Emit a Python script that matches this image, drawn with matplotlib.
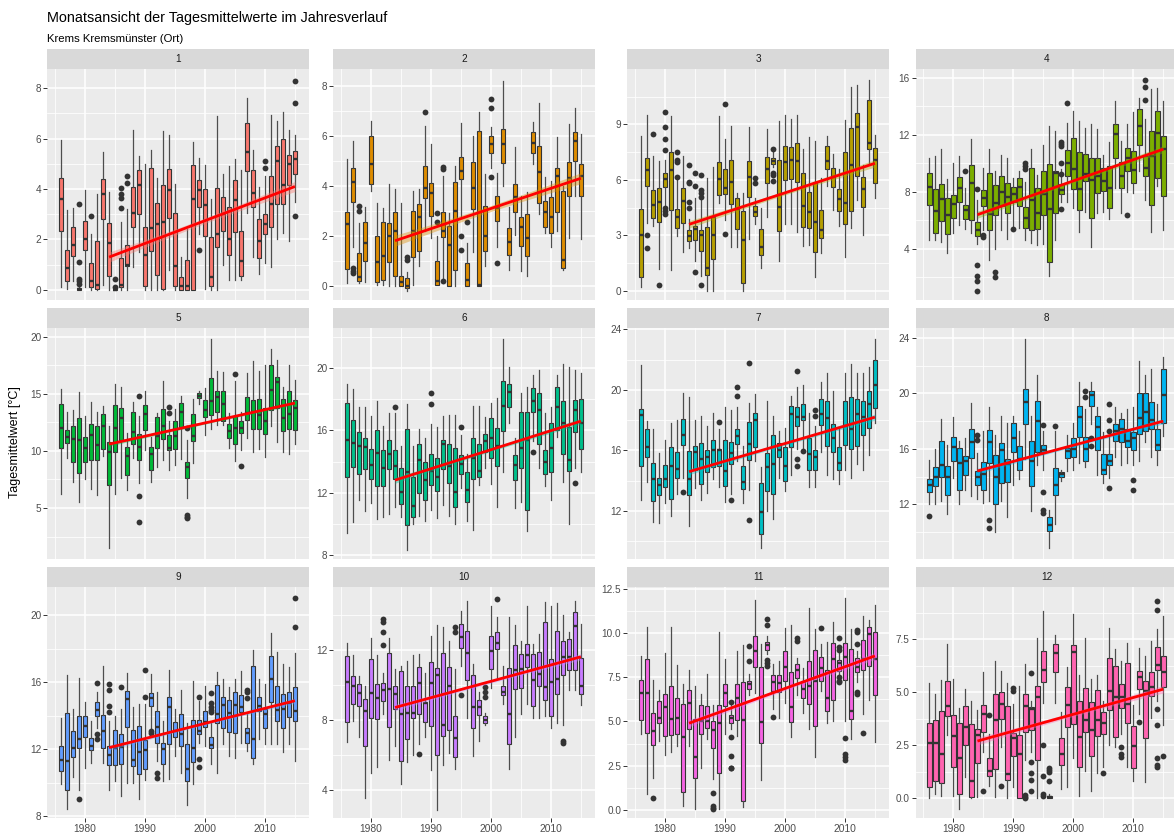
import matplotlib
matplotlib.use('Agg')
import matplotlib.pyplot as plt
import numpy as np

plt.rcParams['font.family'] = ['Liberation Sans', 'DejaVu Sans']

titel = 'Monatsansicht der Tagesmittelwerte im Jahresverlauf'
untertitel = 'Krems Kremsmünster (Ort)'
y_titel = 'Tagesmittelwert [°C]'

jahre = list(range(1976, 2016))
monate = ['1', '2', '3', '4', '5', '6', '7', '8', '9', '10', '11', '12']
farben = ['#F8766D', '#DE8C00', '#B79F00', '#7CAE00', '#00BA38', '#00C08B',
          '#00BFC4', '#00B4F0', '#619CFF', '#C77CFF', '#F564E3', '#FF64B0']

# je Jahr: (unteres Whisker-Ende, Q1, Median, Q3, oberes Whisker-Ende)
m01 = [(0.1, 2.35, 3.6, 4.45, 5.95), (0.05, 0.35, 0.85, 1.6, 3.15), (0.35, 1.35, 1.8, 2.5, 3.25),
       (0.0, 0.0, 0.02, 0.08, 0.2), (0.1, 1.6, 2.0, 2.75, 3.95), (0.0, 0.1, 0.35, 1.05, 2.2),
       (0.0, 0.05, 0.2, 1.95, 3.8), (0.2, 2.8, 3.8, 4.4, 5.45), (0.0, 0.55, 1.85, 2.65, 3.9),
       (0.0, 0.0, 0.0, 0.02, 0.05), (0.0, 0.1, 0.2, 1.25, 2.7), (0.0, 0.95, 1.0, 1.8, 3.2),
       (0.9, 2.5, 3.05, 4.1, 6.35), (1.5, 3.0, 4.15, 4.75, 5.3), (0.0, 0.15, 1.4, 2.5, 5.0),
       (0.0, 1.55, 2.45, 4.85, 5.55), (0.0, 0.6, 2.6, 3.45, 4.45), (0.0, 0.05, 2.7, 4.15, 6.3),
       (0.8, 2.85, 3.95, 4.8, 6.15), (0.0, 0.15, 0.95, 3.05, 4.2), (0.0, 0.0, 0.15, 0.5, 1.3),
       (0.0, 0.0, 0.15, 1.2, 2.4), (0.0, 0.0, 3.6, 4.95, 5.85), (2.2, 3.3, 3.95, 4.35, 5.25),
       (0.05, 2.15, 3.35, 4.0, 4.95), (0.0, 0.15, 0.5, 2.1, 3.6), (0.0, 1.7, 2.2, 4.05, 6.9),
       (1.0, 2.35, 3.0, 3.7, 4.6), (0.4, 1.4, 2.0, 3.3, 4.9), (0.4, 2.3, 3.55, 4.35, 5.2),
       (0.4, 0.55, 1.15, 2.35, 4.75), (3.05, 4.7, 5.45, 6.6, 7.6), (1.3, 3.3, 3.85, 4.75, 5.55),
       (0.65, 1.25, 1.95, 2.8, 4.1), (1.05, 2.2, 2.6, 3.0, 4.5), (0.9, 2.5, 3.4, 4.5, 6.95),
       (2.0, 3.4, 5.1, 5.7, 6.7), (2.25, 3.4, 4.15, 6.0, 7.05), (1.95, 4.15, 5.0, 5.35, 6.35),
       (3.5, 4.6, 5.2, 5.5, 6.15)]
m02 = [(0.1, 0.69, 2.45, 2.96, 5.05), (1.55, 3.35, 4.15, 4.7, 5.8), (0.1, 0.2, 0.35, 1.3, 2.5),
       (0.15, 1.0, 1.7, 2.55, 3.15), (3.8, 4.05, 4.85, 6.0, 6.6), (0.05, 0.15, 0.95, 2.0, 3.3),
       (0.05, 0.25, 1.2, 2.55, 3.1), (0.0, 0.95, 2.0, 2.5, 4.05), (0.0, 0.4, 2.2, 2.95, 3.85),
       (0.0, 0.0, 0.15, 0.4, 3.3), (-0.2, -0.1, 0.0, 0.3, 0.55), (0.05, 1.15, 2.2, 3.0, 3.8),
       (0.8, 1.4, 2.75, 3.25, 3.85), (2.2, 3.5, 3.9, 4.8, 6.4), (1.9, 2.8, 3.7, 4.1, 5.65),
       (0.05, 0.05, 0.2, 1.0, 2.0), (0.3, 1.95, 2.2, 2.95, 4.4), (0.0, 0.0, 1.65, 2.4, 2.9),
       (0.0, 0.65, 3.0, 4.15, 4.8), (2.7, 4.25, 4.6, 5.15, 6.5), (0.0, 0.0, 0.25, 0.9, 1.7),
       (1.35, 3.05, 3.9, 4.95, 6.0), (0.0, 0.0, 0.05, 6.2, 6.95), (0.8, 1.4, 2.0, 3.2, 4.45),
       (4.7, 5.3, 5.65, 6.0, 6.35), (1.55, 2.6, 3.1, 3.6, 4.5), (4.0, 4.9, 5.65, 6.25, 8.2),
       (0.65, 1.25, 1.75, 2.3, 3.15), (2.05, 2.95, 3.55, 4.05, 5.55), (0.6, 1.6, 2.35, 2.75, 3.6),
       (0.4, 1.2, 1.9, 2.85, 3.75), (4.85, 5.3, 5.7, 6.15, 6.55), (2.85, 3.3, 4.55, 5.6, 7.3),
       (2.1, 2.35, 2.95, 3.4, 4.35), (1.55, 2.1, 2.75, 3.55, 4.2), (2.2, 2.95, 4.4, 4.7, 5.95),
       (0.65, 0.7, 1.05, 3.8, 4.0), (1.9, 3.6, 4.3, 4.95, 6.45), (3.6, 5.0, 5.8, 6.15, 7.1),
       (1.85, 3.6, 4.4, 4.85, 6.05)]
m03 = [(0.2, 0.75, 3.0, 4.45, 8.4), (3.7, 5.65, 6.55, 7.2, 9.5), (3.5, 3.95, 4.65, 5.45, 7.3),
       (1.2, 3.75, 4.8, 5.55, 7.0), (4.6, 5.6, 6.05, 6.4, 7.1), (1.15, 4.35, 6.55, 7.5, 9.45),
       (2.95, 3.4, 4.0, 4.45, 6.0), (2.1, 3.65, 4.85, 5.55, 7.3), (2.3, 2.7, 2.95, 3.3, 3.9),
       (1.6, 2.75, 3.35, 3.5, 5.0), (0.8, 2.15, 3.0, 3.3, 4.9), (0.0, 0.85, 1.25, 3.45, 6.1),
       (0.0, 1.7, 3.0, 4.0, 6.7), (4.75, 5.2, 6.05, 6.95, 9.45), (3.85, 5.25, 5.55, 6.6, 8.2),
       (2.35, 4.7, 5.9, 7.1, 8.9), (2.4, 3.35, 4.45, 5.05, 5.3), (0.0, 0.45, 2.75, 4.3, 5.3),
       (2.8, 5.1, 6.15, 7.0, 8.85), (3.6, 4.05, 4.25, 4.6, 5.0), (1.25, 1.95, 2.35, 3.35, 4.5),
       (4.0, 5.85, 6.6, 7.25, 8.75), (6.7, 6.85, 7.0, 7.2, 7.5), (1.6, 3.25, 4.55, 7.1, 9.2),
       (3.6, 6.0, 6.95, 7.85, 9.5), (3.6, 6.05, 7.1, 7.8, 9.3), (3.2, 5.9, 7.05, 8.0, 9.5),
       (2.45, 3.45, 4.6, 6.4, 7.7), (2.5, 3.4, 4.25, 5.35, 8.3), (0.75, 2.1, 3.75, 5.9, 8.1),
       (2.05, 2.85, 3.3, 4.35, 6.1), (5.7, 6.6, 7.05, 7.85, 8.4), (4.4, 5.6, 6.15, 6.65, 7.4),
       (3.5, 4.3, 4.95, 5.5, 6.6), (1.85, 3.6, 4.75, 7.5, 9.25), (3.4, 4.3, 6.8, 8.8, 11.0),
       (4.9, 6.2, 8.85, 9.6, 11.15), (3.0, 4.55, 5.5, 6.15, 6.8), (6.9, 7.7, 8.0, 10.3, 11.4),
       (5.0, 5.85, 7.1, 7.75, 8.45)]
m04 = [(4.6, 7.05, 8.35, 9.35, 10.4), (4.6, 5.1, 6.65, 8.2, 10.5), (4.45, 5.95, 7.5, 8.55, 11.0),
       (3.7, 5.05, 6.35, 7.6, 8.9), (5.1, 6.15, 7.15, 7.75, 10.0), (5.7, 7.3, 8.25, 9.05, 10.5),
       (5.4, 6.1, 6.7, 7.05, 8.3), (5.1, 6.0, 8.65, 9.9, 11.7), (4.35, 4.9, 5.35, 5.9, 7.4),
       (5.3, 7.0, 7.55, 8.1, 9.7), (3.25, 5.35, 6.45, 9.3, 11.0), (4.0, 6.35, 7.25, 8.45, 9.5),
       (5.3, 7.0, 8.0, 9.1, 10.6), (4.7, 6.5, 7.65, 8.6, 10.4), (5.6, 7.3, 7.85, 8.35, 9.0),
       (5.5, 7.0, 8.35, 8.95, 9.45), (4.6, 5.45, 6.15, 6.95, 8.7), (4.4, 5.3, 7.4, 9.7, 11.0),
       (4.25, 5.4, 6.5, 8.3, 9.2), (4.35, 6.4, 7.85, 9.5, 11.3), (2.1, 3.1, 6.8, 9.95, 12.6),
       (4.65, 6.5, 9.35, 9.5, 12.3), (7.3, 7.85, 8.15, 8.55, 9.6), (7.3, 9.1, 10.0, 10.95, 12.85),
       (6.85, 8.2, 9.6, 11.8, 13.65), (5.2, 6.7, 8.2, 10.8, 13.0), (6.6, 8.75, 9.25, 10.65, 12.5),
       (4.1, 6.15, 8.85, 10.4, 12.8), (6.5, 7.9, 9.1, 10.4, 12.4), (6.6, 8.05, 8.75, 9.65, 10.6),
       (6.1, 6.9, 8.25, 9.8, 11.5), (8.25, 10.4, 12.05, 12.75, 14.4), (6.55, 8.25, 9.15, 10.1, 11.6),
       (8.0, 9.5, 10.35, 11.1, 12.75), (7.9, 8.6, 9.55, 10.85, 13.6), (9.5, 11.3, 12.6, 13.85, 14.6),
       (7.4, 9.1, 9.65, 10.5, 13.1), (5.2, 7.05, 10.5, 12.25, 15.2), (8.4, 9.0, 12.15, 13.7, 15.3),
       (5.3, 7.7, 11.0, 11.9, 14.4)]
m05 = [(6.2, 10.3, 12.0, 14.1, 15.45), (9.4, 10.7, 11.2, 11.85, 13.4), (7.3, 9.0, 11.05, 12.15, 13.55),
       (5.5, 8.1, 11.0, 12.9, 15.2), (7.5, 9.05, 10.25, 11.25, 13.05), (6.7, 9.25, 11.4, 12.4, 14.3),
       (6.1, 9.25, 10.5, 12.2, 13.4), (9.6, 10.2, 12.15, 13.25, 13.9), (1.5, 7.0, 9.9, 10.75, 12.2),
       (6.2, 9.95, 12.0, 14.0, 15.85), (7.6, 11.0, 12.85, 13.8, 15.6), (6.6, 7.85, 9.6, 10.35, 11.6),
       (9.4, 10.6, 11.7, 13.4, 14.3), (7.2, 9.2, 10.35, 11.5, 13.1), (10.05, 11.85, 13.25, 14.0, 15.25),
       (7.3, 8.3, 9.75, 10.35, 11.25), (8.6, 10.25, 11.35, 12.95, 13.3), (9.2, 11.05, 12.2, 13.65, 16.1),
       (8.3, 10.05, 10.3, 11.4, 12.6), (8.75, 10.2, 11.3, 12.6, 13.7), (9.3, 12.0, 13.4, 14.2, 14.8),
       (5.9, 7.6, 8.6, 9.05, 11.0), (8.95, 10.9, 11.3, 13.2, 14.55), (14.1, 14.6, 14.85, 15.1, 15.3),
       (11.4, 12.95, 13.6, 14.5, 15.5), (11.9, 13.15, 14.4, 16.4, 19.8), (12.3, 13.4, 14.75, 15.25, 17.0),
       (12.3, 12.6, 14.1, 15.3, 16.95), (10.3, 11.1, 11.75, 12.4, 13.3), (9.1, 10.6, 12.0, 13.1, 16.1),
       (10.1, 11.55, 12.0, 12.65, 13.4), (11.1, 12.7, 13.3, 14.75, 16.8), (9.9, 11.95, 13.4, 14.45, 17.9),
       (10.2, 11.95, 13.15, 14.55, 17.0), (9.5, 11.5, 12.6, 13.8, 17.5), (12.2, 13.6, 15.35, 17.5, 18.95),
       (10.8, 13.8, 16.05, 16.45, 18.0), (9.95, 11.75, 12.9, 14.55, 15.6), (9.7, 11.95, 13.25, 15.25, 17.5),
       (10.65, 11.8, 13.8, 14.5, 16.2)]
m06 = [(9.4, 13.0, 15.4, 17.8, 19.0), (10.1, 13.65, 15.2, 16.65, 18.7), (11.5, 13.2, 15.0, 15.9, 17.5),
       (10.8, 13.5, 14.95, 15.5, 17.5), (11.3, 12.9, 13.8, 14.8, 16.9), (10.3, 12.45, 14.55, 16.0, 17.9),
       (10.4, 12.4, 13.55, 14.75, 16.3), (10.6, 13.5, 14.5, 15.4, 17.1), (11.1, 12.9, 13.7, 14.75, 17.1),
       (10.4, 11.25, 12.05, 13.6, 15.0), (8.3, 9.9, 13.35, 16.1, 17.7), (10.0, 10.4, 11.15, 13.0, 15.0),
       (10.5, 12.0, 14.1, 15.1, 16.1), (10.2, 11.5, 12.8, 14.0, 15.5), (10.9, 12.5, 13.4, 14.5, 16.4),
       (10.35, 12.1, 13.0, 14.2, 16.2), (11.2, 13.5, 15.1, 15.4, 16.9), (10.5, 12.6, 13.7, 15.15, 17.0),
       (10.0, 11.1, 12.05, 14.9, 17.0), (12.3, 13.2, 13.85, 14.4, 15.7), (10.2, 11.4, 12.15, 13.3, 14.5),
       (9.6, 12.85, 14.2, 15.5, 17.6), (12.5, 13.0, 13.4, 15.1, 17.6), (13.6, 14.6, 15.35, 15.75, 16.85),
       (12.55, 14.2, 15.5, 16.8, 17.8), (11.1, 13.7, 15.0, 16.15, 18.1), (13.3, 15.95, 17.55, 19.2, 21.9),
       (16.5, 17.5, 18.5, 19.0, 20.1), (11.0, 12.8, 13.8, 14.4, 15.5), (11.4, 13.6, 14.9, 17.2, 18.4),
       (9.5, 10.9, 15.4, 17.2, 18.8), (15.3, 17.2, 17.9, 18.75, 19.6), (13.6, 15.1, 17.3, 18.4, 19.9),
       (12.4, 13.2, 13.95, 14.75, 17.1), (11.5, 13.3, 14.9, 16.5, 17.5), (15.6, 16.0, 17.5, 18.8, 19.6),
       (12.7, 14.5, 16.5, 17.9, 20.3), (10.0, 13.4, 14.1, 16.2, 20.1), (13.6, 15.9, 17.35, 17.95, 19.9),
       (13.3, 14.8, 16.5, 18.0, 19.7)]
m07 = [(12.75, 15.0, 18.35, 18.75, 21.65), (13.9, 15.6, 16.25, 17.45, 17.95), (11.3, 12.65, 14.1, 15.2, 17.4),
       (11.2, 13.05, 13.7, 14.2, 15.8), (12.5, 13.6, 14.1, 15.05, 16.7), (11.7, 12.8, 15.0, 16.2, 17.8),
       (13.1, 14.15, 14.8, 15.9, 18.0), (14.2, 16.35, 17.0, 18.1, 19.8), (11.0, 13.05, 14.1, 15.95, 19.5),
       (13.5, 14.7, 15.9, 16.3, 18.0), (12.7, 13.8, 15.45, 16.5, 18.3), (13.2, 14.6, 15.6, 16.0, 17.6),
       (14.1, 14.9, 16.05, 16.7, 18.5), (13.6, 15.0, 16.0, 16.1, 17.4), (12.6, 13.65, 14.65, 16.7, 18.9),
       (13.1, 15.1, 15.85, 16.55, 18.7), (15.3, 16.4, 16.95, 17.4, 18.9), (12.5, 13.45, 13.9, 14.95, 16.3),
       (13.4, 15.4, 16.45, 17.9, 19.15), (15.3, 16.2, 18.0, 18.45, 19.75), (9.55, 10.45, 11.95, 13.85, 14.9),
       (12.0, 13.35, 14.9, 15.85, 19.3), (11.5, 13.1, 15.1, 17.0, 18.3), (14.2, 15.55, 16.0, 16.5, 17.3),
       (13.3, 13.95, 15.0, 16.25, 17.5), (14.4, 16.25, 18.4, 18.95, 19.6), (16.1, 17.6, 18.2, 18.9, 20.2),
       (16.1, 18.0, 18.2, 19.1, 20.3), (13.6, 14.7, 15.75, 16.8, 18.5), (13.6, 14.7, 15.6, 16.0, 17.6),
       (15.9, 17.7, 18.4, 19.4, 20.5), (14.4, 16.3, 18.15, 19.3, 21.1), (14.1, 15.9, 16.8, 17.75, 19.95),
       (13.8, 14.7, 15.2, 16.2, 17.5), (14.7, 16.35, 17.6, 19.25, 21.1), (14.2, 16.1, 17.4, 19.5, 21.7),
       (15.1, 16.3, 18.4, 19.4, 21.1), (14.7, 17.0, 18.2, 19.3, 21.1), (15.7, 17.5, 19.05, 19.9, 21.5),
       (17.8, 18.8, 20.3, 22.0, 23.35)]
m08 = [(12.0, 12.85, 13.4, 13.85, 15.2), (12.05, 13.3, 14.0, 14.7, 16.0), (12.2, 13.95, 14.8, 16.55, 18.15),
       (11.3, 12.7, 14.0, 14.75, 16.3), (13.9, 15.1, 16.1, 16.85, 18.3), (12.0, 13.0, 15.0, 16.05, 16.6),
       (13.0, 14.1, 15.1, 15.5, 16.8), (12.6, 15.35, 16.5, 17.45, 19.3), (12.4, 13.4, 14.0, 14.4, 15.7),
       (12.1, 13.0, 14.2, 15.05, 17.3), (12.2, 15.0, 16.5, 17.35, 19.0), (10.0, 12.0, 13.95, 15.55, 17.0),
       (12.2, 13.5, 15.9, 16.4, 18.35), (11.1, 13.6, 14.9, 15.3, 17.9), (13.4, 15.75, 16.75, 17.85, 18.4),
       (13.8, 14.45, 15.3, 16.2, 17.3), (15.3, 17.8, 19.35, 20.35, 23.9), (11.5, 13.35, 15.1, 16.6, 18.4),
       (14.8, 15.8, 18.0, 19.45, 21.3), (14.5, 15.8, 15.95, 16.3, 17.3), (8.85, 10.05, 10.5, 11.1, 11.6),
       (10.6, 12.7, 13.4, 14.6, 17.3), (13.7, 14.0, 14.15, 14.3, 14.5), (14.4, 15.35, 15.85, 16.05, 17.0),
       (14.5, 15.4, 16.0, 16.8, 17.9), (15.0, 16.85, 18.3, 19.1, 20.8), (14.7, 15.15, 16.0, 16.85, 18.9),
       (17.8, 19.1, 19.9, 20.15, 20.8), (14.1, 15.9, 17.55, 18.35, 19.0), (13.5, 14.2, 14.5, 15.6, 17.2),
       (13.9, 14.8, 15.15, 15.6, 17.0), (15.4, 16.6, 17.3, 17.8, 19.0), (14.8, 16.5, 17.45, 18.15, 18.6),
       (15.0, 16.15, 16.55, 17.4, 18.9), (14.8, 15.9, 16.75, 17.25, 19.0), (15.1, 17.1, 18.25, 20.0, 22.35),
       (16.5, 17.3, 18.65, 20.0, 21.3), (15.4, 17.45, 18.1, 19.35, 21.75), (14.8, 15.95, 16.3, 17.4, 19.2),
       (16.95, 17.9, 19.85, 21.75, 22.65)]
m09 = [(9.9, 10.7, 11.35, 12.2, 13.85), (8.45, 9.55, 11.3, 14.15, 16.45), (10.35, 11.55, 12.1, 13.1, 14.4),
       (9.6, 12.1, 12.6, 14.0, 16.25), (10.9, 12.75, 13.4, 14.0, 14.85), (11.2, 11.95, 12.2, 12.65, 13.7),
       (13.3, 14.0, 14.35, 14.8, 15.4), (11.2, 12.05, 13.1, 14.05, 16.95), (9.6, 11.05, 11.65, 12.2, 13.7),
       (10.1, 11.05, 12.1, 13.15, 14.0), (9.2, 11.15, 12.15, 12.9, 14.4), (10.0, 13.35, 15.0, 15.5, 16.55),
       (10.0, 11.0, 11.35, 13.15, 14.5), (9.05, 10.55, 11.85, 13.4, 14.7), (10.15, 10.85, 11.95, 12.55, 14.7),
       (13.3, 14.6, 15.05, 15.35, 16.5), (11.3, 12.35, 13.35, 14.3, 15.45), (10.1, 11.1, 12.0, 12.35, 13.7),
       (10.2, 12.3, 14.55, 15.15, 16.75), (11.6, 12.75, 13.1, 13.65, 14.4), (10.6, 12.2, 12.9, 14.1, 15.55),
       (8.7, 10.1, 10.85, 12.3, 13.6), (9.9, 11.25, 12.05, 13.75, 16.05), (12.4, 12.9, 13.1, 13.75, 14.9),
       (12.2, 13.35, 13.65, 14.3, 15.8), (11.1, 12.05, 12.25, 12.75, 13.6), (10.6, 13.6, 14.1, 15.85, 16.6),
       (12.3, 13.3, 14.65, 15.15, 16.2), (11.6, 13.05, 14.15, 14.95, 15.7), (11.5, 12.95, 14.65, 15.45, 16.2),
       (12.4, 14.2, 14.55, 15.25, 16.7), (11.9, 12.4, 12.95, 13.25, 14.1), (11.1, 11.5, 12.6, 16.95, 17.95),
       (12.6, 14.3, 14.6, 15.1, 16.2), (12.3, 13.3, 14.1, 14.4, 15.9), (12.3, 14.85, 16.2, 17.6, 18.95),
       (12.3, 13.7, 14.35, 15.8, 17.8), (11.85, 13.3, 14.4, 15.3, 17.1), (12.3, 13.95, 14.75, 15.45, 16.9),
       (11.3, 13.7, 14.3, 15.75, 17.75)]
m10 = [(6.7, 7.85, 10.15, 11.65, 12.4), (7.9, 8.9, 9.9, 10.5, 11.7), (7.0, 8.8, 9.55, 10.05, 10.5),
       (3.55, 6.5, 8.5, 9.2, 9.95), (4.95, 8.1, 9.55, 11.45, 12.7), (5.3, 8.05, 9.25, 10.05, 11.7),
       (8.3, 9.05, 9.7, 10.1, 10.7), (5.7, 7.6, 9.75, 11.8, 12.7), (6.5, 8.6, 9.45, 9.95, 10.9),
       (4.35, 5.65, 8.3, 10.8, 11.1), (5.6, 6.9, 8.4, 9.95, 11.35), (6.0, 8.1, 8.4, 9.95, 11.7),
       (6.6, 8.3, 10.1, 11.0, 11.75), (7.0, 7.85, 8.95, 9.0, 10.7), (5.1, 7.65, 10.1, 11.3, 12.8),
       (2.85, 6.0, 10.55, 10.95, 13.4), (5.4, 7.05, 7.7, 11.8, 13.3), (6.1, 7.4, 9.9, 11.0, 12.5),
       (5.2, 5.85, 6.95, 8.2, 10.9), (11.1, 12.1, 12.75, 13.45, 14.2), (8.1, 10.3, 11.8, 13.1, 14.8),
       (5.9, 7.5, 8.75, 10.55, 11.2), (6.8, 8.25, 8.75, 9.1, 9.6), (7.7, 7.8, 8.0, 8.2, 8.4),
       (9.8, 10.9, 11.95, 12.8, 14.5), (10.4, 12.05, 12.4, 13.0, 13.85), (8.9, 9.4, 9.6, 9.9, 11.1),
       (5.2, 6.6, 8.3, 10.95, 13.85), (7.0, 9.75, 10.85, 12.25, 13.4), (8.3, 9.8, 10.9, 11.75, 12.5),
       (8.9, 11.0, 11.7, 12.35, 14.5), (8.1, 8.8, 10.25, 11.75, 12.35), (8.1, 9.9, 10.6, 11.9, 12.9),
       (8.2, 9.15, 9.85, 13.6, 14.75), (7.5, 8.2, 10.15, 11.45, 14.5), (7.8, 9.45, 10.35, 13.05, 14.7),
       (7.7, 10.55, 11.6, 12.5, 14.0), (9.7, 10.85, 11.6, 12.6, 13.0), (9.7, 10.85, 13.35, 14.15, 14.8),
       (8.85, 9.45, 9.95, 11.55, 13.5)]
m11 = [(4.3, 5.1, 6.6, 7.35, 8.7), (0.9, 4.35, 6.6, 8.55, 10.35), (1.8, 3.65, 4.45, 5.45, 7.35),
       (3.9, 4.9, 5.2, 6.15, 6.8), (3.1, 4.2, 5.8, 6.55, 8.85), (3.3, 4.25, 5.15, 7.0, 10.35),
       (3.6, 4.3, 5.2, 6.35, 8.2), (0.2, 1.0, 4.1, 6.0, 7.1), (3.6, 4.6, 6.05, 6.8, 7.9),
       (0.05, 1.8, 3.0, 5.15, 7.0), (2.35, 4.3, 5.0, 5.95, 6.55), (4.0, 4.65, 5.05, 5.9, 7.7),
       (1.75, 3.5, 4.5, 5.05, 5.95), (0.05, 2.1, 4.9, 5.95, 10.05), (4.3, 5.85, 6.6, 7.1, 8.55),
       (4.6, 4.9, 5.2, 5.35, 6.0), (4.2, 5.1, 6.35, 7.1, 8.95), (0.15, 0.5, 5.1, 7.25, 9.3),
       (6.5, 6.85, 7.1, 7.3, 7.7), (6.6, 8.1, 8.95, 9.85, 11.85), (1.7, 3.8, 4.95, 8.1, 9.4),
       (8.8, 9.05, 9.3, 9.5, 9.8), (5.7, 6.7, 7.2, 7.6, 8.25), (5.2, 6.65, 7.15, 7.6, 8.4),
       (6.05, 7.3, 8.1, 8.95, 10.3), (4.1, 4.95, 5.8, 7.8, 10.45), (6.5, 7.45, 7.9, 8.25, 8.6),
       (5.5, 6.35, 6.85, 7.3, 8.0), (4.55, 6.0, 7.0, 8.4, 11.4), (3.0, 4.75, 7.3, 9.05, 10.2),
       (6.7, 7.3, 8.0, 8.65, 9.4), (4.9, 5.6, 6.3, 7.9, 9.5), (5.0, 6.2, 8.55, 9.45, 10.6),
       (7.6, 7.85, 8.3, 8.45, 9.0), (5.05, 7.35, 8.65, 9.45, 11.95), (4.0, 5.15, 5.6, 9.1, 10.2),
       (7.2, 7.8, 8.05, 8.6, 9.0), (5.4, 7.9, 8.55, 9.6, 10.95), (6.2, 8.15, 9.95, 10.35, 10.75),
       (3.85, 6.5, 8.55, 10.05, 11.55)]
m12 = [(0.0, 0.55, 2.6, 3.55, 5.45), (0.2, 0.8, 2.6, 3.7, 4.9), (0.1, 0.7, 2.1, 4.1, 5.6),
       (3.0, 3.9, 4.35, 5.55, 7.3), (0.1, 1.5, 2.95, 3.95, 5.65), (-0.5, 0.2, 1.9, 3.55, 4.25),
       (1.0, 2.5, 3.35, 4.35, 5.15), (0.0, 0.05, 0.8, 3.5, 4.6), (0.05, 1.65, 3.0, 3.25, 4.15),
       (2.2, 3.15, 4.0, 4.4, 5.95), (0.6, 1.05, 1.3, 1.9, 3.05), (0.05, 1.4, 3.7, 4.9, 6.5),
       (2.4, 3.75, 4.45, 5.0, 6.0), (0.0, 0.85, 1.15, 4.35, 5.45), (0.55, 2.0, 2.85, 3.1, 4.45),
       (0.0, 0.0, 2.1, 3.0, 5.3), (1.8, 3.15, 4.35, 4.9, 6.35), (2.2, 3.2, 4.2, 4.3, 4.6),
       (0.0, 1.8, 4.8, 5.3, 7.55), (4.5, 5.5, 6.05, 6.95, 8.85), (0.0, 0.02, 0.05, 0.1, 0.2),
       (4.5, 5.95, 6.85, 7.3, 7.7), (0.45, 1.55, 2.1, 2.85, 4.05), (0.55, 3.35, 4.4, 5.25, 6.2),
       (1.9, 3.5, 6.9, 7.25, 8.7), (0.1, 1.5, 2.9, 4.6, 5.8), (1.3, 3.15, 3.7, 5.2, 7.55),
       (0.35, 2.0, 3.2, 4.55, 5.65), (1.2, 2.95, 3.7, 5.1, 5.8), (1.5, 3.05, 3.55, 4.05, 4.6),
       (2.5, 4.15, 5.05, 6.6, 8.05), (2.4, 2.9, 4.8, 6.25, 7.05), (3.05, 4.25, 4.8, 5.4, 6.5),
       (1.5, 3.55, 4.45, 6.4, 7.35), (0.8, 1.45, 2.45, 3.4, 4.4), (4.0, 5.15, 5.7, 6.0, 7.1),
       (0.75, 2.85, 5.05, 5.55, 6.7), (3.8, 4.85, 5.25, 5.95, 7.4), (4.6, 6.05, 6.3, 7.15, 8.0),
       (3.45, 5.25, 5.95, 6.7, 8.6)]

# Ausreisser: (Jahr, Wert)
aus01 = [(1979, 3.42), (1979, 1.12), (1979, 0.45), (1979, 0.35), (1979, 0.25), (1981, 2.95),
         (1985, 0.45), (1985, 0.1), (1986, 4.05), (1986, 3.8), (1986, 3.65), (1986, 3.25),
         (1987, 4.5), (1987, 4.25), (1999, 1.6), (2010, 5.1), (2010, 4.85), (2015, 8.3),
         (2015, 7.4), (2015, 2.95)]
aus02 = [(1977, 0.7), (1977, 0.6), (1977, 0.5), (1978, 3.2), (1978, 3.0), (1986, 1.15),
         (1986, 1.05), (1989, 6.95), (1991, 2.9), (1991, 2.55), (1992, 4.75), (1992, 4.65),
         (1992, 0.2), (1995, 2.0), (1995, 1.45), (1996, 2.55), (2000, 7.45), (2000, 7.1),
         (2000, 4.35), (2001, 0.9)]
aus03 = [(1977, 3.0), (1977, 2.3), (1978, 8.5), (1979, 0.3), (1980, 9.7), (1980, 8.85),
         (1980, 8.2), (1980, 7.6), (1980, 4.5), (1980, 4.3), (1980, 4.15), (1982, 7.5),
         (1982, 7.1), (1982, 6.95), (1982, 6.15), (1984, 6.8), (1984, 5.9), (1984, 5.85),
         (1984, 4.8), (1984, 4.5), (1985, 6.35), (1985, 5.65), (1985, 1.0), (1986, 6.25),
         (1986, 5.45), (1986, 5.3), (1986, 5.1), (1986, 0.3), (1990, 10.1), (1990, 3.1),
         (1995, 6.1), (1995, 5.85), (1998, 7.65), (1998, 6.4), (1998, 6.25), (1998, 5.95)]
aus04 = [(1982, 9.45), (1984, 8.2), (1984, 2.85), (1984, 2.1), (1984, 1.75), (1984, 1.05),
         (1985, 5.0), (1985, 4.8), (1987, 2.35), (1987, 2.0), (1990, 5.4), (1992, 10.0),
         (1992, 9.8), (1992, 9.6), (1998, 11.5), (1998, 11.35), (1998, 11.2), (1998, 10.0),
         (1998, 9.25), (1998, 6.8), (1999, 14.25), (2009, 6.4), (2012, 15.85), (2012, 15.4),
         (2012, 14.45)]
aus05 = [(1989, 14.8), (1989, 6.05), (1989, 3.75), (1994, 13.85), (1994, 13.35), (1997, 12.0),
         (1997, 4.35), (1997, 4.2), (1997, 4.1), (2005, 16.75), (2006, 8.7)]
aus06 = [(1984, 17.5), (1990, 18.4), (1990, 17.7), (1995, 16.2), (2007, 14.6), (2014, 12.6)]
aus07 = [(1983, 13.25), (1989, 17.85), (1991, 12.75), (1992, 20.2), (1992, 19.6), (1994, 21.8),
         (1994, 11.4), (2002, 21.25), (2002, 15.45), (2002, 15.0), (2003, 15.95), (2005, 18.65),
         (2005, 18.25)]
aus08 = [(1976, 11.15), (1984, 17.0), (1984, 16.65), (1986, 10.85), (1986, 10.3), (1995, 17.7),
         (1995, 12.9), (1995, 11.6), (1995, 11.4), (1997, 17.65), (2002, 20.15), (2002, 19.75),
         (2003, 16.75), (2003, 16.2), (2006, 19.2), (2006, 18.1), (2006, 17.3), (2006, 13.2),
         (2010, 13.75), (2010, 13.05)]
aus09 = [(1979, 9.05), (1982, 15.95), (1982, 12.9), (1982, 12.6), (1984, 15.9), (1984, 15.55),
         (1984, 14.6), (1984, 14.2), (1986, 15.75), (1990, 16.75), (1990, 15.15), (1991, 13.1),
         (1991, 12.95), (1992, 10.6), (1992, 10.3), (1999, 15.15), (1999, 11.45), (1999, 10.95),
         (2001, 15.35), (2001, 14.75), (2001, 14.55), (2001, 14.35), (2001, 14.2), (2007, 15.55),
         (2007, 15.4), (2007, 15.05), (2015, 21.05), (2015, 19.3)]
aus10 = [(1982, 13.75), (1982, 13.6), (1982, 13.0), (1982, 12.3), (1988, 6.05), (1994, 13.3),
         (1994, 13.0), (1995, 9.4), (1999, 9.85), (1999, 9.6), (1999, 9.3), (2001, 14.9),
         (2012, 6.8), (2012, 6.65)]
aus11 = [(1978, 0.7), (1988, 0.95), (1988, 0.25), (1988, 0.1), (1988, 0.05), (1991, 6.1),
         (1991, 4.15), (1991, 3.05), (1991, 2.4), (1991, 2.35), (1994, 9.25), (1994, 8.4),
         (1997, 10.8), (1997, 10.45), (1997, 8.45), (1997, 8.3), (1997, 8.15), (1998, 5.25),
         (2002, 9.7), (2002, 9.55), (2006, 10.3), (2009, 9.7), (2009, 9.2), (2009, 9.05),
         (2009, 7.5), (2009, 7.3), (2009, 7.2), (2010, 4.05), (2010, 3.15), (2010, 3.0),
         (2010, 2.85), (2012, 10.15), (2012, 10.05), (2012, 9.35), (2012, 6.65), (2012, 6.55),
         (2013, 4.35)]
aus12 = [(1985, 0.35), (1986, 3.95), (1988, 0.6), (1990, 5.2), (1990, 5.05), (1992, 0.15),
         (1992, 0.05), (1992, 0.0), (1993, 5.9), (1993, 1.7), (1993, 1.2), (1993, 0.85),
         (1993, 0.35), (1995, 2.5), (1995, 1.05), (1995, 0.2), (1995, 0.1), (1996, 1.45),
         (1996, 1.35), (1996, 1.25), (1996, 0.8), (2005, 1.2), (2008, 2.4), (2008, 2.1),
         (2008, 1.95), (2011, 3.6), (2014, 9.3), (2014, 8.9), (2014, 4.2), (2014, 3.45),
         (2014, 1.9), (2014, 1.55), (2014, 1.5), (2015, 2.0)]

# lineare Trends 1984-2015 (Start- und Endwert, halbe Breite des Konfidenzbands am Rand)
trend_jahre = [1984, 2015]
trend_start = [1.3, 1.8, 3.6, 6.4, 10.6, 12.8, 14.6, 14.4, 12.1, 8.7, 4.9, 2.7]
trend_ende = [4.1, 4.3, 6.9, 11.0, 14.2, 16.6, 18.2, 18.0, 14.9, 11.6, 8.7, 5.15]
trend_band = [0.2, 0.22, 0.2, 0.25, 0.18, 0.2, 0.2, 0.2, 0.15, 0.18, 0.2, 0.18]

boxen = [m01, m02, m03, m04, m05, m06, m07, m08, m09, m10, m11, m12]
ausreisser = [aus01, aus02, aus03, aus04, aus05, aus06, aus07, aus08, aus09, aus10, aus11, aus12]

# Achsen je Panel (freie y-Skalen)
y_grenzen = [(-0.40, 8.76), (-0.57, 8.67), (-0.49, 12.0), (0.41, 16.63), (0.53, 20.78), (7.72, 22.6),
             (8.83, 24.09), (8.05, 24.72), (7.9, 21.69), (2.38, 15.59), (-0.45, 12.59), (-0.93, 9.97)]
y_ticks = [[0, 2, 4, 6, 8], [0, 2, 4, 6, 8], [0, 3, 6, 9], [4, 8, 12, 16], [5, 10, 15, 20],
           [8, 12, 16, 20], [12, 16, 20, 24], [12, 16, 20, 24], [8, 12, 16, 20], [4, 8, 12],
           [0, 2.5, 5, 7.5, 10, 12.5], [0, 2.5, 5, 7.5]]

W, H = 1174, 834
spalten_x = [47.3, 333.3, 627.3, 915.7]
zeilen_y = [49.3, 308.3, 567.3]
panel_b = 262
strip_h = 19.7
panel_h = 231


def px_achse(fig, x0, y0, b, h):
    return fig.add_axes([x0 / W, 1 - (y0 + h) / H, b / W, h / H])


def zeichne_panel(ax, i):
    farbe = farben[i]
    stats = []
    for jahr, (lo, q1, med, q3, hi) in zip(jahre, boxen[i]):
        fl = [v for (j, v) in ausreisser[i] if j == jahr]
        stats.append(dict(whislo=lo, q1=q1, med=med, q3=q3, whishi=hi, fliers=fl))
    ax.bxp(stats, positions=jahre, widths=0.74, patch_artist=True, showcaps=False,
           manage_ticks=False,
           boxprops=dict(facecolor=farbe, edgecolor='#333333', linewidth=0.8),
           whiskerprops=dict(color='#4D4D4D', linewidth=0.9),
           medianprops=dict(color='#333333', linewidth=1.7),
           flierprops=dict(marker='o', markerfacecolor='#333333', markeredgecolor='none',
                           markersize=4.2))

    # Regressionsgerade mit Konfidenzband
    x = np.linspace(trend_jahre[0], trend_jahre[1], 80)
    y = np.interp(x, trend_jahre, [trend_start[i], trend_ende[i]])
    t = (x - np.mean(trend_jahre)) / (0.5 * (trend_jahre[1] - trend_jahre[0]))
    hw = trend_band[i] * np.sqrt(0.3 + 0.7 * t ** 2)
    ax.fill_between(x, y - hw, y + hw, color=farbe, alpha=0.4, lw=0, zorder=3)
    ax.plot(trend_jahre, [trend_start[i], trend_ende[i]], color='red', lw=2.0, zorder=4,
            solid_capstyle='butt')

    ax.set_facecolor('#EBEBEB')
    for s in ax.spines.values():
        s.set_visible(False)
    ax.set_xlim(1973.7, 2017.4)
    ax.set_ylim(*y_grenzen[i])
    ticks = y_ticks[i]
    schritt = ticks[1] - ticks[0]
    lo, hi = y_grenzen[i]
    minor = [t0 + schritt / 2 for t0 in [ticks[0] - schritt] + ticks]
    minor = [m for m in minor if lo < m < hi]
    ax.set_yticks(ticks)
    ax.set_yticks(minor, minor=True)
    if schritt != int(schritt):
        ax.set_yticklabels(['%.1f' % t0 for t0 in ticks])
    ax.set_xticks([1980, 1990, 2000, 2010])
    ax.set_xticks([1975, 1985, 1995, 2005, 2015], minor=True)
    ax.set_axisbelow(True)
    ax.grid(which='major', color='white', lw=1.1)
    ax.grid(which='minor', color='white', lw=0.55)
    ax.tick_params(which='minor', length=0)
    ax.tick_params(axis='y', which='major', length=2.8, width=0.7, color='#333333',
                   labelsize=7.2, labelcolor='#4D4D4D', pad=1.5)
    if i >= 8:
        ax.tick_params(axis='x', which='major', length=2.8, width=0.7, color='#333333',
                       labelsize=7.4, labelcolor='#4D4D4D', pad=1.5)
    else:
        ax.tick_params(axis='x', which='major', length=0, labelbottom=False)


def main():
    fig = plt.figure(figsize=(W / 100, H / 100), dpi=100)
    for i in range(12):
        zeile, spalte = divmod(i, 4)
        x0 = spalten_x[spalte]
        y0 = zeilen_y[zeile]
        strip = px_achse(fig, x0, y0, panel_b, strip_h)
        strip.set_facecolor('#D9D9D9')
        strip.set_xticks([])
        strip.set_yticks([])
        for s in strip.spines.values():
            s.set_visible(False)
        strip.text(0.5, 0.5, monate[i], ha='center', va='center', fontsize=7.2,
                   color='#1A1A1A', transform=strip.transAxes)
        ax = px_achse(fig, x0, y0 + strip_h, panel_b, panel_h)
        zeichne_panel(ax, i)

    fig.text(47.5 / W, 1 - 21.7 / H, titel, fontsize=10.4, ha='left', va='baseline', color='black')
    fig.text(47.5 / W, 1 - 41.5 / H, untertitel, fontsize=8.2, ha='left', va='baseline', color='black')
    fig.text(15 / W, 1 - 442 / H, y_titel, fontsize=9, rotation=90, ha='center', va='center')
    fig.savefig('out.png', dpi=100)
    plt.close(fig)


if __name__ == '__main__':
    main()
